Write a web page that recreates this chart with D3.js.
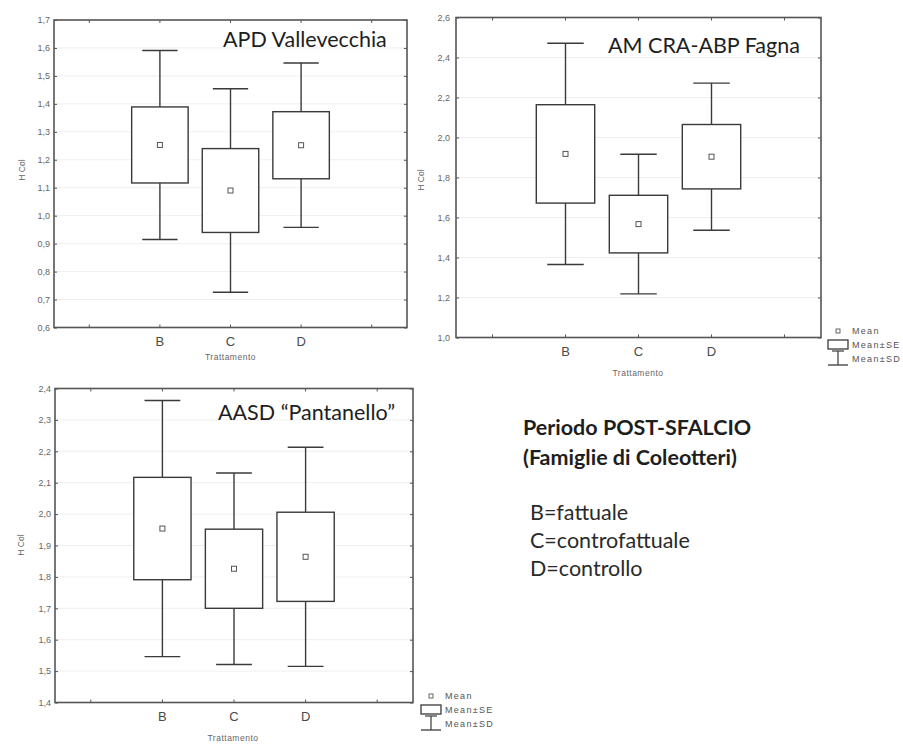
<!DOCTYPE html>
<html>
<head>
<meta charset="utf-8">
<script src="https://cdn.jsdelivr.net/npm/d3@7"></script>
<style>
  html, body { margin: 0; padding: 0; background: #ffffff; }
  svg { display: block; }
</style>
</head>
<body>
<svg id="chart" width="903" height="745"></svg>
<script>
// Treatments on the x axis
const categories = ["B", "C", "D"];

// APD Vallevecchia: mean, standard error, standard deviation of H Col
const meanVallevecchia = [1.253, 1.090, 1.252];
const seVallevecchia   = [0.136, 0.150, 0.120];
const sdVallevecchia   = [0.338, 0.364, 0.294];
const ticksVallevecchia = [0.6, 0.7, 0.8, 0.9, 1.0, 1.1, 1.2, 1.3, 1.4, 1.5, 1.6, 1.7];

// AM CRA-ABP Fagna
const meanFagna = [1.918, 1.567, 1.904];
const seFagna   = [0.246, 0.144, 0.161];
const sdFagna   = [0.553, 0.349, 0.368];
const ticksFagna = [1.0, 1.2, 1.4, 1.6, 1.8, 2.0, 2.2, 2.4, 2.6];

// AASD "Pantanello"
const meanPantanello = [1.954, 1.826, 1.864];
const sePantanello   = [0.163, 0.126, 0.142];
const sdPantanello   = [0.408, 0.305, 0.349];
const ticksPantanello = [1.4, 1.5, 1.6, 1.7, 1.8, 1.9, 2.0, 2.1, 2.2, 2.3, 2.4];

const legendLabels = ["Mean", "Mean±SE", "Mean±SD"];
const noteTitle = ["Periodo POST-SFALCIO", "(Famiglie di Coleotteri)"];
const noteLines = ["B=fattuale", "C=controfattuale", "D=controllo"];

const svg = d3.select("#chart");
const fmt = v => d3.format(".1f")(v).replace(".", ",");

const INK = "#3a3a3a";
const FRAME = "#555555";
const LABEL = "#666666";
const SANS = "'Liberation Sans', Arial, sans-serif";
const HUMANIST = "Lato, 'Open Sans', sans-serif";

function drawPanel(p) {
  const g = svg.append("g");
  const x = d3.scalePoint().domain(categories).range([p.left, p.right]).padding(1.5);
  const y = d3.scaleLinear().domain([p.ticks[0], p.ticks[p.ticks.length - 1]]).range([p.bottom, p.top]);
  const step = x.step();

  // faint horizontal grid
  g.append("g").selectAll("line").data(p.ticks.slice(1, -1)).join("line")
    .attr("x1", p.left).attr("x2", p.right)
    .attr("y1", d => y(d)).attr("y2", d => y(d))
    .attr("stroke", "#efefef").attr("stroke-width", 1);

  // left axis with inward ticks
  const yAxis = g.append("g").attr("transform", `translate(${p.left},0)`)
    .call(d3.axisLeft(y).tickValues(p.ticks).tickFormat(fmt).tickSize(-3).tickPadding(p.tickPad));
  yAxis.select(".domain").remove();
  yAxis.selectAll(".tick line").attr("stroke", FRAME);
  yAxis.selectAll(".tick text").attr("fill", LABEL)
    .style("font-family", SANS).style("font-size", "9px");

  // right axis ticks
  const yAxisR = g.append("g").attr("transform", `translate(${p.right},0)`)
    .call(d3.axisRight(y).tickValues(p.ticks).tickFormat("").tickSize(-3));
  yAxisR.select(".domain").remove();
  yAxisR.selectAll(".tick line").attr("stroke", FRAME);

  // x tick positions: one slot before and after the categories
  const slots = [x("B") - step, x("B"), x("C"), x("D"), x("D") + step];
  g.append("g").selectAll("line.bt").data(slots).join("line")
    .attr("x1", d => d).attr("x2", d => d)
    .attr("y1", p.bottom).attr("y2", p.bottom - 3)
    .attr("stroke", FRAME);
  g.append("g").selectAll("line.tt").data(slots).join("line")
    .attr("x1", d => d).attr("x2", d => d)
    .attr("y1", p.top).attr("y2", p.top + 3)
    .attr("stroke", FRAME);

  // category labels
  g.append("g").selectAll("text").data(categories).join("text")
    .attr("x", d => x(d)).attr("y", p.bottom + 14)
    .attr("dy", "0.35em").attr("text-anchor", "middle")
    .attr("fill", "#4a4a4a")
    .style("font-family", SANS).style("font-size", "13px")
    .text(d => d);

  // axis titles
  g.append("text")
    .attr("x", (p.left + p.right) / 2 + p.xTitleShift).attr("y", p.bottom + p.xTitleGap)
    .attr("dy", "0.35em").attr("text-anchor", "middle").attr("fill", LABEL)
    .style("font-family", SANS).style("font-size", "8.5px")
    .style("letter-spacing", "0.5px")
    .text("Trattamento");
  g.append("text")
    .attr("transform", `translate(${p.yTitleX},${p.yTitleY}) rotate(-90)`)
    .attr("dy", "0.35em").attr("text-anchor", "middle").attr("fill", LABEL)
    .style("font-family", SANS).style("font-size", "8.5px")
    .text("H Col");

  // boxes and whiskers
  const rows = categories.map((c, i) => ({ c, m: p.mean[i], se: p.se[i], sd: p.sd[i] }));
  const boxW = step * 0.8, capW = step * 0.5;
  const items = g.append("g").selectAll("g").data(rows).join("g");
  items.append("line")
    .attr("x1", d => x(d.c)).attr("x2", d => x(d.c))
    .attr("y1", d => y(d.m + d.sd)).attr("y2", d => y(d.m - d.sd))
    .attr("stroke", INK).attr("stroke-width", 1.4);
  items.append("line")
    .attr("x1", d => x(d.c) - capW / 2).attr("x2", d => x(d.c) + capW / 2)
    .attr("y1", d => y(d.m + d.sd)).attr("y2", d => y(d.m + d.sd))
    .attr("stroke", INK).attr("stroke-width", 1.4);
  items.append("line")
    .attr("x1", d => x(d.c) - capW / 2).attr("x2", d => x(d.c) + capW / 2)
    .attr("y1", d => y(d.m - d.sd)).attr("y2", d => y(d.m - d.sd))
    .attr("stroke", INK).attr("stroke-width", 1.4);
  items.append("rect")
    .attr("x", d => x(d.c) - boxW / 2).attr("width", boxW)
    .attr("y", d => y(d.m + d.se)).attr("height", d => y(d.m - d.se) - y(d.m + d.se))
    .attr("fill", "#ffffff").attr("stroke", INK).attr("stroke-width", 1.4);
  items.append("rect")
    .attr("x", d => x(d.c) - 2.5).attr("y", d => y(d.m) - 2.5)
    .attr("width", 5).attr("height", 5)
    .attr("fill", "#ffffff").attr("stroke", "#555").attr("stroke-width", 1);

  // frame
  g.append("rect")
    .attr("x", p.left).attr("y", p.top)
    .attr("width", p.right - p.left).attr("height", p.bottom - p.top)
    .attr("fill", "none").attr("stroke", FRAME).attr("stroke-width", 1.6);

  // site title
  g.append("text")
    .attr("x", p.titleX).attr("y", p.titleY)
    .attr("fill", "#1e1e1e")
    .style("font-family", HUMANIST).style("font-size", "21.5px")
    .text(p.title);

  if (p.legend) drawLegend(p.legend.x, p.legend.y);
}

function drawLegend(cx, y0) {
  const g = svg.append("g");
  const rowY = [y0, y0 + 14, y0 + 28];
  g.append("rect").attr("x", cx - 2).attr("y", rowY[0] - 2).attr("width", 4).attr("height", 4)
    .attr("fill", "#fff").attr("stroke", "#555").attr("stroke-width", 0.9);
  g.append("rect").attr("x", cx - 10).attr("y", rowY[1] - 5).attr("width", 20).attr("height", 9)
    .attr("fill", "#fff").attr("stroke", INK).attr("stroke-width", 1.3);
  g.append("line").attr("x1", cx - 6).attr("x2", cx + 6).attr("y1", rowY[1] + 6).attr("y2", rowY[1] + 6)
    .attr("stroke", INK).attr("stroke-width", 1.2);
  g.append("line").attr("x1", cx).attr("x2", cx).attr("y1", rowY[1] + 6).attr("y2", rowY[2] + 6)
    .attr("stroke", INK).attr("stroke-width", 1.2);
  g.append("line").attr("x1", cx - 10).attr("x2", cx + 10).attr("y1", rowY[2] + 6).attr("y2", rowY[2] + 6)
    .attr("stroke", INK).attr("stroke-width", 1.3);
  g.selectAll("text").data(legendLabels).join("text")
    .attr("x", cx + 14).attr("y", (d, i) => rowY[i]).attr("dy", "0.35em")
    .attr("fill", "#555")
    .style("font-family", SANS).style("font-size", "9px")
    .style("letter-spacing", "1.3px")
    .text(d => d);
}

drawPanel({
  mean: meanVallevecchia, se: seVallevecchia, sd: sdVallevecchia, ticks: ticksVallevecchia,
  title: "APD Vallevecchia",
  left: 54, right: 407, top: 20, bottom: 327.5,
  tickPad: 4, titleX: 223, titleY: 47,
  xTitleShift: 0, xTitleGap: 30, yTitleX: 22, yTitleY: 170
});

drawPanel({
  mean: meanFagna, se: seFagna, sd: sdFagna, ticks: ticksFagna,
  title: "AM CRA-ABP Fagna",
  left: 456, right: 821, top: 17.5, bottom: 337.5,
  tickPad: 6, titleX: 608, titleY: 53,
  xTitleShift: -0.5, xTitleGap: 36, yTitleX: 421, yTitleY: 180,
  legend: { x: 838, y: 331 }
});

drawPanel({
  mean: meanPantanello, se: sePantanello, sd: sdPantanello, ticks: ticksPantanello,
  title: "AASD “Pantanello”",
  left: 55, right: 413, top: 388.5, bottom: 702.5,
  tickPad: 4, titleX: 218, titleY: 420,
  xTitleShift: -1, xTitleGap: 36, yTitleX: 21, yTitleY: 545,
  legend: { x: 431, y: 696 }
});

// study notes
const note = svg.append("g");
note.selectAll("text.t").data(noteTitle).join("text")
  .attr("class", "t")
  .attr("x", 523).attr("y", (d, i) => 435 + i * 30)
  .attr("fill", "#1e1e1e")
  .style("font-family", HUMANIST).style("font-size", "21.5px").style("font-weight", "bold")
  .text(d => d);
note.selectAll("text.l").data(noteLines).join("text")
  .attr("class", "l")
  .attr("x", 530).attr("y", (d, i) => 520 + i * 28)
  .attr("fill", "#2a2a2a")
  .style("font-family", HUMANIST).style("font-size", "21.5px")
  .text(d => d);
</script>
</body>
</html>
